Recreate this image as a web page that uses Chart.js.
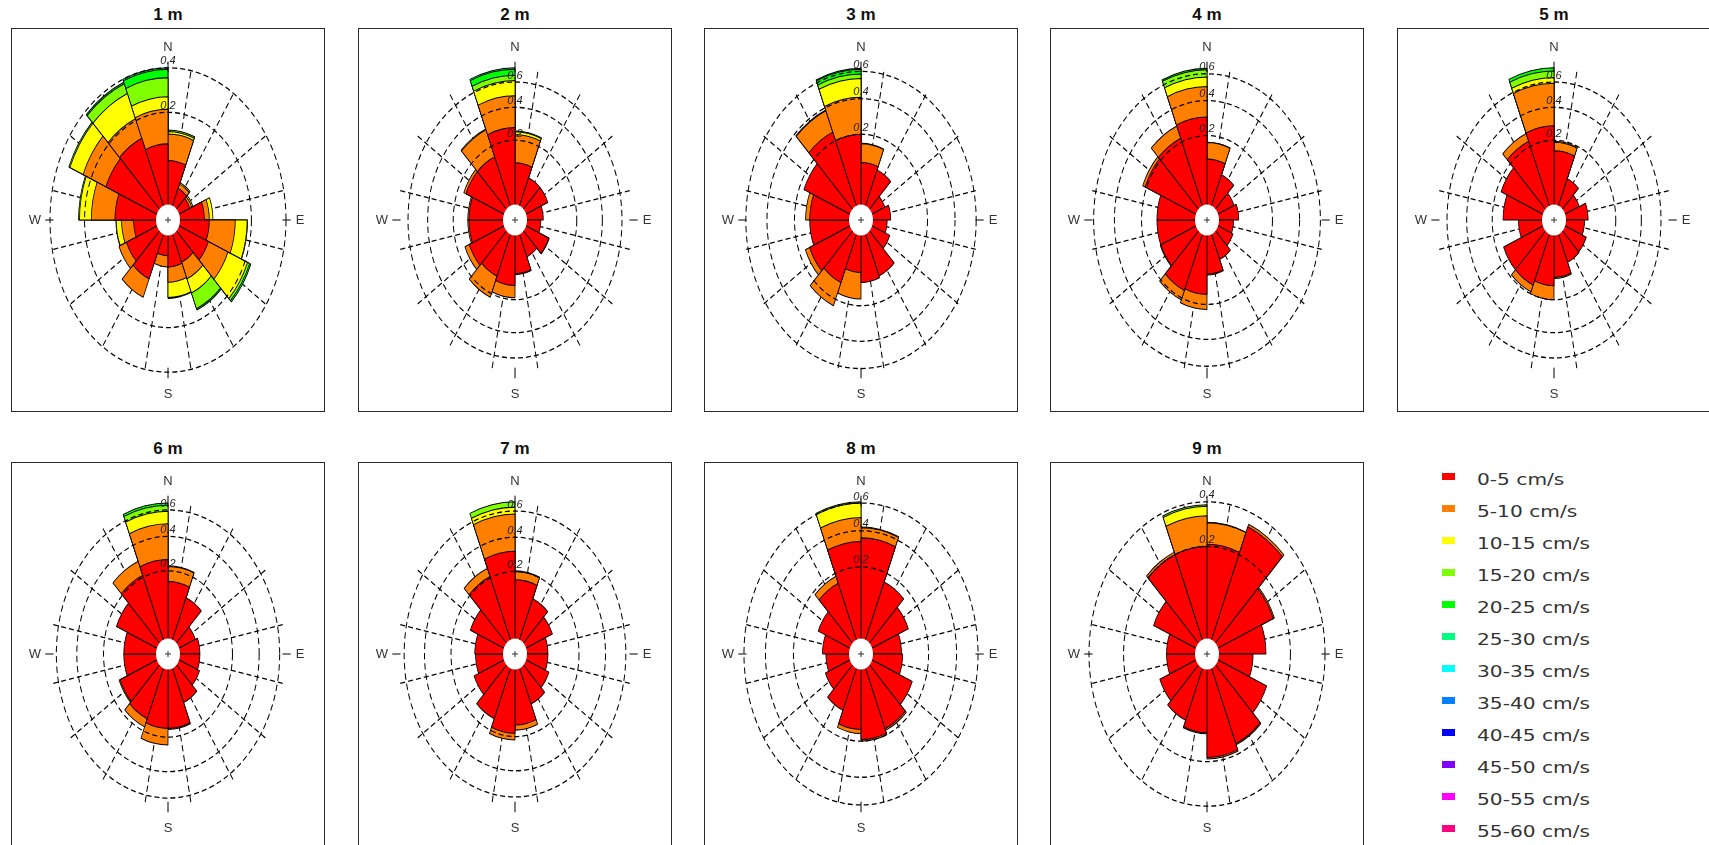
<!DOCTYPE html>
<html>
<head>
<meta charset="utf-8">
<script src="https://cdn.jsdelivr.net/npm/chart.js@4.4.1/dist/chart.umd.min.js"></script>
<style>
html,body{margin:0;padding:0;background:#fff;width:1709px;height:845px;overflow:hidden;font-family:"Liberation Sans",Arial,sans-serif;}
.panel{position:absolute;width:312px;height:382px;border:1px solid #2a2a2a;background:#fff;}
.panel canvas{position:absolute;left:0;top:0;width:312px;height:382px;}
.title{position:absolute;width:314px;text-align:center;font-weight:bold;font-size:17px;line-height:17px;color:#111;}
.lrow{position:absolute;left:1436px;height:32px;width:260px;}
.lsw{position:absolute;left:6px;top:9px;width:13px;height:7px;}
.ltx{position:absolute;left:41px;top:0;line-height:32px;font-family:"DejaVu Sans",sans-serif;font-size:16px;color:#333;transform:scaleX(1.26);transform-origin:left center;white-space:nowrap;}
</style>
</head>
<body>
<script>
// ---------------- DATA ----------------
// 16 direction sectors, clockwise from North, each 22.5 degrees wide
const sectors = ['0-22.5°','22.5-45°','45-67.5°','67.5-90°','90-112.5°','112.5-135°','135-157.5°','157.5-180°',
                 '180-202.5°','202.5-225°','225-247.5°','247.5-270°','270-292.5°','292.5-315°','315-337.5°','337.5-360°'];
const speedClasses = ['0-5 cm/s','5-10 cm/s','10-15 cm/s','15-20 cm/s','20-25 cm/s','25-30 cm/s',
                      '30-35 cm/s','35-40 cm/s','40-45 cm/s','45-50 cm/s','50-55 cm/s','55-60 cm/s'];
const panelTitles = ['1 m','2 m','3 m','4 m','5 m','6 m','7 m','8 m','9 m'];

// radial axis extent of each panel and the labelled rings
const axisMax = [0.40, 0.73, 0.63, 0.65, 0.73, 0.67, 0.68, 0.61, 0.40];
const ringsShallow = [0.2, 0.4];
const ringsDeep = [0.2, 0.4, 0.6];

// 1 m : frequency per sector for each speed class
const red1    = [.061,.020,.016,.038,.049,.055,.036,.038,.022,.070,.058,.034,.081,.130,.135,.100];
const orange1 = [.067,.006,.003,.011,.081,.066,.034,.029,.016,.051,.023,.028,.088,.113,.072,.112];
const yellow1 = [.007,.002,.002,.009,.050,.092,.038,.037,0,0,0,.015,.056,.081,.117,.050];
const lime1   = [.005,0,0,0,.002,.011,.051,.002,0,0,0,.001,.005,.007,.052,.088];
const green1  = [0,0,0,0,0,.007,.005,0,0,0,0,0,0,0,.008,.042];
const spring1 = [0,0,0,0,0,0,0,0,0,0,0,0,0,0,0,.008];
// 2 m
const red2    = [.103,.066,.066,.042,.035,.070,.050,.091,.135,.117,.129,.111,.111,.148,.148,.269];
const orange2 = [.127,0,0,0,0,.002,0,.003,.055,.103,.025,.006,.006,.013,.152,.218];
const yellow2 = [.015,0,0,0,0,0,0,0,0,0,0,0,0,0,.005,.126];
const lime2   = [.005,0,0,0,0,0,0,0,0,0,0,0,0,0,0,.047];
const green2  = [0,0,0,0,0,0,0,0,0,0,0,0,0,0,0,.057];
const spring2 = [0,0,0,0,0,0,0,0,0,0,0,0,0,0,0,.013];
// 3 m
const red3    = [.090,.080,.030,.040,.031,.044,.100,.106,.075,.125,.140,.119,.119,.173,.246,.200];
const orange3 = [.068,0,0,0,0,0,0,0,.095,.109,.024,0,.020,0,.134,.210];
const yellow3 = [.002,0,0,0,0,0,0,0,0,0,0,0,0,0,.005,.135];
const lime3   = [0,0,0,0,0,0,0,0,0,0,0,0,0,0,0,.035];
const green3  = [0,0,0,0,0,0,0,0,0,0,0,0,0,0,0,.037];
const spring3 = [0,0,0,0,0,0,0,0,0,0,0,0,0,0,0,.008];
// 4 m
const red4    = [.104,.067,.040,.047,.033,.037,.051,.082,.155,.163,.117,.117,.117,.210,.220,.297];
const orange4 = [.065,0,0,0,0,0,0,.003,.070,.047,.003,0,0,.016,.070,.203];
const yellow4 = [.001,0,0,0,0,0,0,0,0,0,0,0,0,0,0,.074];
const lime4   = [0,0,0,0,0,0,0,0,0,0,0,0,0,0,0,.059];
const green4  = [0,0,0,0,0,0,0,0,0,0,0,0,0,0,0,.012];
// 5 m
const red5    = [.151,.063,.039,.061,.049,.064,.066,.104,.136,.156,.156,.066,.136,.172,.229,.280];
const orange5 = [.039,0,0,0,0,0,0,.004,.064,.034,0,0,0,0,.047,.310];
const yellow5 = [.005,0,0,0,0,0,0,0,0,0,0,0,0,0,0,.050];
const lime5   = [0,0,0,0,0,0,0,0,0,0,0,0,0,0,0,.060];
const green5  = [0,0,0,0,0,0,0,0,0,0,0,0,0,0,0,.030];
// 6 m
const red6    = [.152,.107,.042,.049,.049,.056,.080,.160,.160,.142,.130,.094,.094,.150,.210,.258];
const orange6 = [.070,0,0,0,0,0,0,.005,.080,.038,.005,0,0,0,.082,.232];
const yellow6 = [.003,0,0,0,0,0,0,0,0,0,0,0,0,0,0,.100];
const lime6   = [0,0,0,0,0,0,0,0,0,0,0,0,0,0,0,.050];
const green6  = [0,0,0,0,0,0,0,0,0,0,0,0,0,0,0,.020];
// 7 m
const red7    = [.162,.105,.080,.053,.053,.066,.086,.148,.184,.144,.096,.076,.079,.114,.206,.310];
const orange7 = [.038,0,0,0,0,0,0,.022,.033,0,0,0,0,0,.047,.265];
const yellow7 = [.003,0,0,0,0,0,0,0,0,0,0,0,0,0,0,.058];
const lime7   = [0,0,0,0,0,0,0,0,0,0,0,0,0,0,0,.047];
// 8 m
const red8    = [.355,.160,.115,.072,.076,.135,.172,.193,.150,.098,.065,.054,.065,.094,.154,.333];
const orange8 = [.065,0,0,0,0,0,.008,.007,.016,0,0,0,0,0,.032,.157];
const yellow8 = [.005,0,0,0,0,0,0,0,0,0,0,0,0,0,0,.110];
const lime8   = [0,0,0,0,0,0,0,0,0,0,0,0,0,0,0,.010];
// 9 m
const red9    = [.208,.327,.148,.100,.061,.120,.163,.185,.107,.089,.075,.047,.047,.096,.200,.200];
const orange9 = [.090,.013,.005,0,0,0,.004,.005,.003,0,0,0,0,0,.010,.130];
const yellow9 = [.002,0,0,0,0,0,0,0,0,0,0,0,0,0,0,.047];
const lime9   = [0,0,0,0,0,0,0,0,0,0,0,0,0,0,0,.008];

// ---------------- STYLE / LAYOUT ----------------
const speedColors = ['#FF0000','#FF8000','#FFFF00','#80FF00','#00FF00','#00FF80',
                     '#00FFFF','#0080FF','#0000FF','#8000FF','#FF00FF','#FF0080'];
const panels = [
  {bins:[red1,orange1,yellow1,lime1,green1,spring1], rings:ringsShallow},
  {bins:[red2,orange2,yellow2,lime2,green2,spring2], rings:ringsDeep},
  {bins:[red3,orange3,yellow3,lime3,green3,spring3], rings:ringsDeep},
  {bins:[red4,orange4,yellow4,lime4,green4], rings:ringsDeep},
  {bins:[red5,orange5,yellow5,lime5,green5], rings:ringsDeep},
  {bins:[red6,orange6,yellow6,lime6,green6], rings:ringsDeep},
  {bins:[red7,orange7,yellow7,lime7], rings:ringsDeep},
  {bins:[red8,orange8,yellow8,lime8], rings:ringsDeep},
  {bins:[red9,orange9,yellow9,lime9], rings:ringsShallow}
];
const boxLeft = [11, 358, 704, 1050, 1397];
const boxTop = [28, 462];
const titleTop = [6, 440];
const CANVAS_W = 312, CANVAS_H = 382;
const SPOKE_FRAC = 118 / 156;   // outer radius as a fraction of the drawing area
const K = 1.29;                 // vertical stretch of the plot (elliptical rose)

// square-root radial scale (frequency area-proportional rose)
class SqrtRadialScale extends Chart.RadialLinearScale {
  static id = 'sqrtRadial';
  getDistanceFromCenterForValue(value) {
    if (value === null || value === undefined || isNaN(value)) return 0;
    const span = this.max - this.min;
    const t = Math.max(0, (value - this.min) / span);
    return this.drawingArea * SPOKE_FRAC * Math.sqrt(t);
  }
  getValueForDistanceFromCenter(distance) {
    const R = this.drawingArea * SPOKE_FRAC;
    const t = Math.pow(distance / R, 2);
    return this.min + t * (this.max - this.min);
  }
}
Chart.register(SqrtRadialScale);

const roseDecor = {
  id: 'roseDecor',
  beforeDraw(chart) {
    const s = chart.scales.r, ctx = chart.ctx;
    ctx.save();
    ctx.translate(0, s.yCenter * (1 - K));
    ctx.scale(1, K);
  },
  afterDraw(chart) {
    const ctx = chart.ctx;
    ctx.restore();
    const s = chart.scales.r;
    const cx = s.xCenter, cy = s.yCenter;
    const R = s.getDistanceFromCenterForValue(s.max);
    ctx.save();
    // cardinal ticks
    ctx.strokeStyle = '#000'; ctx.lineWidth = 1;
    [0, 90, 180, 270].forEach(a => {
      const r = a * Math.PI / 180, sx = Math.sin(r), sy = -Math.cos(r);
      ctx.beginPath();
      ctx.moveTo(cx + sx * R * 0.97, cy + sy * R * 0.97 * K);
      ctx.lineTo(cx + sx * R * 1.04, cy + sy * R * 1.04 * K);
      ctx.stroke();
    });
    // centre hole
    ctx.fillStyle = '#fff';
    ctx.beginPath(); ctx.ellipse(cx, cy, 12, 12 * K, 0, 0, Math.PI * 2); ctx.fill();
    ctx.strokeStyle = '#333';
    ctx.beginPath(); ctx.moveTo(cx - 3, cy); ctx.lineTo(cx + 3, cy); ctx.moveTo(cx, cy - 3); ctx.lineTo(cx, cy + 3); ctx.stroke();
    // ring labels
    ctx.font = 'italic 11px "Liberation Sans", Arial, sans-serif';
    ctx.fillStyle = '#222'; ctx.textAlign = 'center'; ctx.textBaseline = 'bottom';
    s.ticks.forEach(t => {
      if (t.value > 0) {
        const d = s.getDistanceFromCenterForValue(t.value);
        ctx.fillText(t.value.toFixed(1), cx, cy - d * K - 1);
      }
    });
    // compass letters
    ctx.font = '13px "Liberation Sans", Arial, sans-serif';
    ctx.fillStyle = '#333'; ctx.textBaseline = 'middle';
    ctx.fillText('N', cx, cy - R * K - 20);
    ctx.fillText('S', cx, cy + R * K + 22);
    ctx.fillText('W', cx - R - 15, cy);
    ctx.fillText('E', cx + R + 14, cy);
    ctx.restore();
  }
};

function buildPanel(p, i) {
  const row = i < 5 ? 0 : 1, col = i < 5 ? i : i - 5;
  const title = document.createElement('div');
  title.className = 'title';
  title.style.left = boxLeft[col] + 'px';
  title.style.top = titleTop[row] + 'px';
  title.textContent = panelTitles[i];
  document.body.appendChild(title);

  const box = document.createElement('div');
  box.className = 'panel';
  box.style.left = boxLeft[col] + 'px';
  box.style.top = boxTop[row] + 'px';
  const cv = document.createElement('canvas');
  cv.width = CANVAS_W; cv.height = CANVAS_H;
  box.appendChild(cv);
  document.body.appendChild(box);

  // stacked rose: cumulative totals drawn from the outside in
  let run = new Array(sectors.length).fill(0);
  const datasets = p.bins.map((bin, b) => {
    run = run.map((v, k) => v + bin[k]);
    return {
      label: speedClasses[b],
      data: run.map((v, k) => (b === 0 || bin[k] > 0) ? v : null),
      backgroundColor: speedColors[b],
      borderColor: '#000',
      borderWidth: 0.8
    };
  });

  new Chart(cv, {
    type: 'polarArea',
    data: { labels: sectors, datasets },
    options: {
      responsive: false,
      animation: false,
      events: [],
      layout: { padding: 0 },
      plugins: { legend: { display: false }, tooltip: { enabled: false } },
      scales: {
        r: {
          type: 'sqrtRadial', axis: 'r', min: 0, max: axisMax[i], bounds: 'data', startAngle: 0,
          afterBuildTicks: (s) => { s.ticks = [0].concat(p.rings).map(v => ({ value: v })); },
          ticks: { display: false },
          pointLabels: { display: false },
          angleLines: { display: false },
          grid: { display: true, circular: true, color: '#000', lineWidth: 1, z: 1 },
          border: { dash: [5, 3] }
        },
        r2: {
          type: 'sqrtRadial', axis: 'r', min: 0, max: 1, startAngle: 11.25,
          ticks: { display: false },
          pointLabels: { display: false },
          grid: { display: false },
          angleLines: { display: true, color: '#000', lineWidth: 1, borderDash: [5, 3] }
        }
      }
    },
    plugins: [roseDecor]
  });
}
panels.forEach(buildPanel);

// legend
speedClasses.forEach((name, i) => {
  const row = document.createElement('div');
  row.className = 'lrow';
  row.style.top = (464 + 32 * i) + 'px';
  const sw = document.createElement('div');
  sw.className = 'lsw';
  sw.style.background = speedColors[i];
  const tx = document.createElement('div');
  tx.className = 'ltx';
  tx.textContent = name;
  row.appendChild(sw); row.appendChild(tx);
  document.body.appendChild(row);
});
</script>
</body>
</html>
